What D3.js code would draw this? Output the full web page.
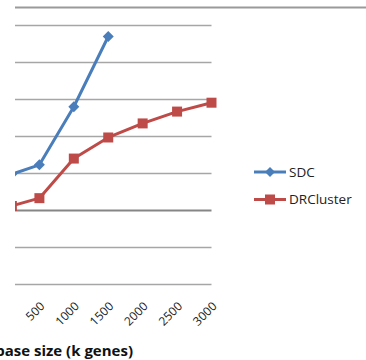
<!DOCTYPE html>
<html>
<head>
<meta charset="utf-8">
<script src="https://cdn.jsdelivr.net/npm/d3@7"></script>
<style>
  html, body { margin: 0; padding: 0; background: #fff; }
  svg { display: block; font-family: "Open Sans", "Liberation Sans", sans-serif; }
</style>
</head>
<body>
<svg id="chart" width="366" height="360"></svg>
<script>
// Database size in thousands of genes
const sizes = [100, 500, 1000, 1500, 2000, 2500, 3000];
const tickValues = [500, 1000, 1500, 2000, 2500, 3000];
// Run time per method
const sdc = [0.97, 1.22, 2.79, 4.69];
const drcluster = [0.11, 0.32, 1.39, 1.96, 2.34, 2.66, 2.9];
const seriesNames = ["SDC", "DRCluster"];
const seriesColors = ["#4A7EBB", "#BE4B48"];
const gridValues = [-2, -1, 0, 1, 2, 3, 4, 5];

const svg = d3.select("#chart");
const plot = { left: 15, right: 211.5, top: 25, bottom: 284 };

const x = d3.scaleLinear().domain([145.5, 3000]).range([plot.left, plot.right]);
const y = d3.scaleLinear().domain([-2, 5]).range([plot.bottom, plot.top]);

// top border line
svg.append("line")
  .attr("x1", plot.left).attr("x2", 366)
  .attr("y1", 7.5).attr("y2", 7.5)
  .attr("stroke", "#9a9a9a").attr("stroke-width", 2);

// horizontal gridlines
svg.append("g").selectAll("line").data(gridValues).join("line")
  .attr("x1", plot.left).attr("x2", plot.right)
  .attr("y1", d => Math.round(y(d)) + 0.5).attr("y2", d => Math.round(y(d)) + 0.5)
  .attr("stroke", d => d === 0 ? "#868686" : "#a6a6a6")
  .attr("stroke-width", d => d === 0 ? 2 : 1.5);

// clip for data lines
svg.append("defs").append("clipPath").attr("id", "plotClip")
  .append("rect")
  .attr("x", plot.left).attr("y", 0)
  .attr("width", 366 - plot.left).attr("height", 300);

const series = [sdc, drcluster];
const line = d3.line().x(d => x(d[0])).y(d => y(d[1]));

const g = svg.append("g").attr("clip-path", "url(#plotClip)");
series.forEach((vals, i) => {
  const pts = vals.map((v, j) => [sizes[j], v]);
  g.append("path").datum(pts)
    .attr("fill", "none")
    .attr("stroke", seriesColors[i])
    .attr("stroke-width", 3)
    .attr("stroke-linejoin", "round")
    .attr("d", line);
  g.append("g").selectAll("path").data(pts).join("path")
    .attr("transform", d => `translate(${x(d[0])},${y(d[1])})`)
    .attr("fill", seriesColors[i])
    .attr("d", i === 0 ? "M0,-5.5L5.5,0L0,5.5L-5.5,0Z" : "M-5,-5H5V5H-5Z");
});

// x tick labels (rotated)
svg.append("g").selectAll("text").data(tickValues).join("text")
  .attr("transform", d => `translate(${x(d) + 6},${307}) rotate(-45)`)
  .attr("text-anchor", "end")
  .attr("font-size", 12)
  .attr("fill", "#222")
  .text(d => d);

// x axis title
svg.append("text")
  .attr("x", 133).attr("y", 356)
  .attr("text-anchor", "end")
  .attr("font-size", 15)
  .attr("font-weight", "bold")
  .attr("fill", "#111")
  .text("Database size (k genes)");

// legend
const legend = svg.append("g");
seriesNames.forEach((name, i) => {
  const ly = 172 + i * 27.5;
  legend.append("line")
    .attr("x1", 254).attr("x2", 286).attr("y1", ly).attr("y2", ly)
    .attr("stroke", seriesColors[i]).attr("stroke-width", 3);
  legend.append("path")
    .attr("transform", `translate(270,${ly})`)
    .attr("d", i === 0 ? "M0,-5L5,0L0,5L-5,0Z" : "M-5,-5H5V5H-5Z")
    .attr("fill", seriesColors[i]);
  legend.append("text")
    .attr("x", 289).attr("y", ly + 4.5)
    .attr("font-size", 13.5)
    .attr("fill", "#222")
    .text(name);
});
</script>
</body>
</html>
